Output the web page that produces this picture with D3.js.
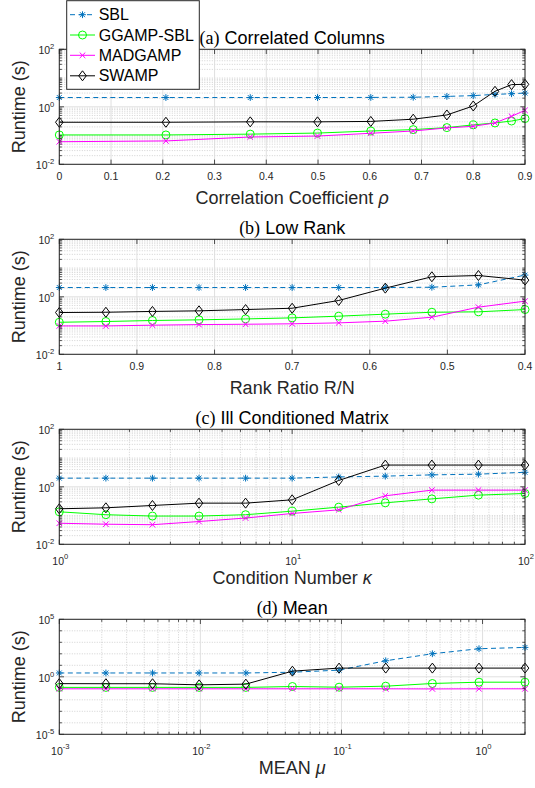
<!DOCTYPE html>
<html>
<head>
<meta charset="utf-8">
<script src="https://cdn.jsdelivr.net/npm/d3@7"></script>
<style>
  html, body { margin: 0; padding: 0; background: #fff; }
  svg { display: block; }
</style>
</head>
<body>
<svg id="fig" width="535" height="788"></svg>
<script>
// ---- Series names ----
const seriesNames = ["SBL", "GGAMP-SBL", "MADGAMP", "SWAMP"];

// ---- (a) Correlated columns: runtime vs correlation coefficient ----
const rhoValues   = [0, 0.206, 0.369, 0.499, 0.602, 0.684, 0.749, 0.800, 0.842, 0.874, 0.9];
const sblCorr     = [2.1, 2.1, 2.1, 2.1, 2.12, 2.15, 2.3, 2.45, 2.7, 2.85, 3.0];
const ggampCorr   = [0.105, 0.105, 0.112, 0.122, 0.144, 0.161, 0.189, 0.235, 0.274, 0.32, 0.39];
const madgampCorr = [0.061, 0.065, 0.089, 0.096, 0.12, 0.144, 0.184, 0.21, 0.274, 0.467, 0.755];
const swampCorr   = [0.29, 0.29, 0.30, 0.30, 0.31, 0.37, 0.52, 1.07, 3.46, 5.9, 6.05];

// ---- (b) Low rank: runtime vs rank ratio ----
const rankRatio   = [1, 0.94, 0.88, 0.82, 0.76, 0.70, 0.64, 0.58, 0.52, 0.46, 0.40];
const sblRank     = [2.1, 2.1, 2.1, 2.1, 2.1, 2.1, 2.1, 2.1, 2.15, 2.6, 5.7];
const ggampRank   = [0.13, 0.138, 0.15, 0.158, 0.17, 0.185, 0.212, 0.249, 0.29, 0.30, 0.36];
const madgampRank = [0.097, 0.097, 0.103, 0.108, 0.111, 0.115, 0.124, 0.142, 0.195, 0.436, 0.706];
const swampRank   = [0.284, 0.29, 0.31, 0.325, 0.36, 0.40, 0.745, 2.0, 4.97, 5.5, 3.8];

// ---- (c) Ill conditioned matrix: runtime vs condition number ----
const condNumber  = [1, 1.585, 2.512, 3.981, 6.31, 10, 15.85, 25.12, 39.81, 63.1, 100];
const sblCond     = [2.0, 2.0, 2.0, 2.0, 2.0, 2.0, 2.2, 2.35, 2.6, 2.75, 3.2];
const ggampCond   = [0.135, 0.107, 0.096, 0.096, 0.107, 0.142, 0.196, 0.277, 0.38, 0.513, 0.586];
const madgampCond = [0.054, 0.05, 0.048, 0.062, 0.082, 0.118, 0.158, 0.486, 0.766, 0.766, 0.766];
const swampCond   = [0.172, 0.186, 0.224, 0.27, 0.27, 0.353, 1.66, 5.7, 5.7, 5.7, 5.7];

// ---- (d) Mean: runtime vs mean ----
const meanValues  = [0.001, 0.00214, 0.00458, 0.0098, 0.021, 0.0449, 0.0962, 0.206, 0.441, 0.944, 2];
const sblMean     = [2.15, 2.15, 2.15, 2.15, 2.15, 2.5, 3.8, 24.8, 101, 276, 360];
const ggampMean   = [0.12, 0.12, 0.12, 0.12, 0.12, 0.143, 0.125, 0.153, 0.262, 0.34, 0.34];
const madgampMean = [0.09, 0.09, 0.09, 0.09, 0.09, 0.09, 0.09, 0.09, 0.088, 0.09, 0.09];
const swampMean   = [0.255, 0.25, 0.25, 0.2, 0.23, 3.1, 5.7, 5.7, 5.7, 5.7, 5.7];

// ---- Tick values and labels ----
const corrTicks      = [0, 0.1, 0.2, 0.3, 0.4, 0.5, 0.6, 0.7, 0.8, 0.9];
const corrTickLabels = ["0", "0.1", "0.2", "0.3", "0.4", "0.5", "0.6", "0.7", "0.8", "0.9"];
const rankTicks      = [1, 0.9, 0.8, 0.7, 0.6, 0.5, 0.4];
const rankTickLabels = ["1", "0.9", "0.8", "0.7", "0.6", "0.5", "0.4"];
const condTickExps   = [0, 1, 2];
const meanTickExps   = [-3, -2, -1, 0];
const runtimeTickExps     = [-2, 0, 2];
const meanRuntimeTickExps = [-5, 0, 5];

// ---- Styling ----
const AX = "#262626";
const SANS = "'Liberation Sans', Arial, Helvetica, sans-serif";
const SERIF = "'Liberation Serif', 'Times New Roman', serif";
const styles = [
  { color: "#0072BD", dash: "5,3.5", marker: "asterisk" },
  { color: "#00FF00", dash: null,    marker: "circle" },
  { color: "#FF00FF", dash: null,    marker: "cross" },
  { color: "#000000", dash: null,    marker: "diamond" }
];

const plotLeft = 59.3, plotRight = 525, plotH = 115;
const panelTops = [49.3, 239.3, 429.3, 619.3];

const svg = d3.select("#fig");
svg.append("rect").attr("width", 535).attr("height", 788).attr("fill", "#fff");

function markerPath(kind) {
  if (kind === "asterisk") {
    const r = 3.4, a = r * 0.72;
    return `M${-r},0H${r}M0,${-r}V${r}M${-a},${-a}L${a},${a}M${-a},${a}L${a},${-a}`;
  }
  if (kind === "cross") {
    const r = 2.8;
    return `M${-r},${-r}L${r},${r}M${-r},${r}L${r},${-r}`;
  }
  if (kind === "diamond") {
    const w = 3.8, h = 5;
    return `M0,${-h}L${w},0L0,${h}L${-w},0Z`;
  }
  return null;
}

function drawMarker(g, kind, color, cx, cy) {
  if (kind === "circle") {
    g.append("circle").attr("cx", cx).attr("cy", cy).attr("r", 4)
      .attr("fill", "none").attr("stroke", color).attr("stroke-width", 1);
  } else {
    g.append("path").attr("d", markerPath(kind))
      .attr("transform", `translate(${cx},${cy})`)
      .attr("fill", kind === "diamond" ? "none" : "none")
      .attr("stroke", color).attr("stroke-width", 1);
  }
}

// minor tick values on a log axis between two decade exponents
function logMinor(lo, hi, everyDecadeOnly, majorExps) {
  const out = [];
  for (let e = lo; e < hi; e++) {
    if (!majorExps.includes(e)) out.push(Math.pow(10, e));
    if (!everyDecadeOnly) for (let m = 2; m <= 9; m++) out.push(m * Math.pow(10, e));
  }
  if (!majorExps.includes(hi)) out.push(Math.pow(10, hi));
  return out;
}

function pow10Label(sel, exp, x, y, anchor, supDy) {
  const t = sel.append("text").attr("x", x).attr("y", y)
    .attr("text-anchor", anchor).attr("fill", AX)
    .attr("font-family", SANS).attr("font-size", 10.5);
  t.append("tspan").text("10");
  t.append("tspan").attr("dy", supDy).attr("font-size", 7.6).text(exp < 0 ? "-" + Math.abs(exp) : String(exp));
  return t;
}

function drawPanel(p, idx) {
  const top = panelTops[idx], bottom = top + plotH;
  const g = svg.append("g");

  const x = (p.xLog ? d3.scaleLog() : d3.scaleLinear()).domain(p.xDomain).range([plotLeft, plotRight]);
  const y = d3.scaleLog().domain(p.yDomain).range([bottom, top]);

  const yMajor = p.yExps.map(e => Math.pow(10, e));
  const yLo = Math.round(Math.log10(p.yDomain[0])), yHi = Math.round(Math.log10(p.yDomain[1]));
  const yMinor = logMinor(yLo, yHi, p.yDecadeMinorOnly, p.yExps);

  let xMajor, xMinor = [];
  if (p.xLog) {
    xMajor = p.xExps.map(e => Math.pow(10, e));
    const lo = Math.floor(Math.log10(p.xDomain[0])), hi = Math.ceil(Math.log10(p.xDomain[1]));
    xMinor = logMinor(lo, hi, false, p.xExps).filter(v => v > p.xDomain[0] && v <= p.xDomain[1] * 1.0001);
  } else {
    xMajor = p.xTicks;
  }

  // grid: minor dotted, major solid
  const grid = g.append("g");
  grid.selectAll(".ymin").data(yMinor).join("line")
    .attr("x1", plotLeft).attr("x2", plotRight).attr("y1", d => y(d)).attr("y2", d => y(d))
    .attr("stroke", "#b4b4b4").attr("stroke-width", 0.6).attr("stroke-dasharray", "1,1.5");
  grid.selectAll(".xmin").data(xMinor).join("line")
    .attr("y1", top).attr("y2", bottom).attr("x1", d => x(d)).attr("x2", d => x(d))
    .attr("stroke", "#b4b4b4").attr("stroke-width", 0.6).attr("stroke-dasharray", "1,1.5");
  grid.selectAll(".ymaj").data(yMajor).join("line")
    .attr("x1", plotLeft).attr("x2", plotRight).attr("y1", d => y(d)).attr("y2", d => y(d))
    .attr("stroke", "#dcdcdc").attr("stroke-width", 0.9);
  grid.selectAll(".xmaj").data(xMajor).join("line")
    .attr("y1", top).attr("y2", bottom).attr("x1", d => x(d)).attr("x2", d => x(d))
    .attr("stroke", "#dcdcdc").attr("stroke-width", 0.9);

  // series
  const line = d3.line().x(d => x(d[0])).y(d => y(d[1]));
  p.series.forEach((vals, si) => {
    const st = styles[si];
    const pts = p.xs.map((xv, i) => [xv, vals[i]]);
    g.append("path").datum(pts).attr("d", line)
      .attr("fill", "none").attr("stroke", st.color).attr("stroke-width", 1)
      .attr("stroke-dasharray", st.dash);
    const mg = g.append("g");
    pts.forEach(d => drawMarker(mg, st.marker, st.color, x(d[0]), y(d[1])));
  });

  // box and inward ticks
  const ax = g.append("g").attr("stroke", AX).attr("fill", "none");
  const majLen = 4.7, minLen = 2.6;
  const tick = (x1, y1, x2, y2) => ax.append("line").attr("x1", x1).attr("y1", y1).attr("x2", x2).attr("y2", y2).attr("stroke-width", 0.8);
  yMajor.forEach(v => { tick(plotLeft, y(v), plotLeft + majLen, y(v)); tick(plotRight, y(v), plotRight - majLen, y(v)); });
  yMinor.forEach(v => { tick(plotLeft, y(v), plotLeft + minLen, y(v)); tick(plotRight, y(v), plotRight - minLen, y(v)); });
  xMajor.forEach(v => { tick(x(v), bottom, x(v), bottom - majLen); tick(x(v), top, x(v), top + majLen); });
  xMinor.forEach(v => { tick(x(v), bottom, x(v), bottom - minLen); tick(x(v), top, x(v), top + minLen); });
  ax.append("rect").attr("x", plotLeft).attr("y", top)
    .attr("width", plotRight - plotLeft).attr("height", plotH).attr("stroke-width", 1);

  // y tick labels
  p.yExps.forEach(e => pow10Label(g, e, plotLeft - 5, y(Math.pow(10, e)) + 5, "end", -5));

  // x tick labels
  if (p.xLog) {
    p.xExps.forEach(e => pow10Label(g, e, x(Math.pow(10, e)) + 1, bottom + 20.5, "middle", -6));
  } else {
    p.xTicks.forEach((v, i) => g.append("text").attr("x", x(v)).attr("y", bottom + 16)
      .attr("text-anchor", "middle").attr("fill", AX).attr("font-family", SANS)
      .attr("font-size", 10.5).text(p.xTickLabels[i]));
  }

  const cx = (plotLeft + plotRight) / 2;

  // title: panel letter in serif, remaining words in sans
  const tt = g.append("text").attr("x", cx).attr("y", top - 5).attr("text-anchor", "middle")
    .attr("fill", "#000").attr("font-size", 18);
  tt.append("tspan").attr("font-family", SERIF).text(p.title[0]);
  tt.append("tspan").attr("font-family", SANS).text(p.title[1]);

  // x label
  const xl = g.append("text").attr("x", cx).attr("y", bottom + 40).attr("text-anchor", "middle")
    .attr("fill", AX).attr("font-family", SANS).attr("font-size", 18);
  xl.append("tspan").text(p.xLabel[0]);
  if (p.xLabel[1]) xl.append("tspan").attr("font-style", "italic").text(p.xLabel[1]);

  // y label
  g.append("text").attr("transform", `translate(25,${(top + bottom) / 2}) rotate(-90)`)
    .attr("text-anchor", "middle").attr("fill", AX).attr("font-family", SANS)
    .attr("font-size", 18).text("Runtime (s)");
}

const panels = [
  { title: ["(a)", " Correlated Columns"], xLabel: ["Correlation Coefficient ", "ρ"],
    xLog: false, xDomain: [0, 0.9], xTicks: corrTicks, xTickLabels: corrTickLabels,
    yDomain: [1e-2, 1e2], yExps: runtimeTickExps, yDecadeMinorOnly: false,
    xs: rhoValues, series: [sblCorr, ggampCorr, madgampCorr, swampCorr] },
  { title: ["(b)", " Low Rank"], xLabel: ["Rank Ratio R/N", null],
    xLog: false, xDomain: [1, 0.4], xTicks: rankTicks, xTickLabels: rankTickLabels,
    yDomain: [1e-2, 1e2], yExps: runtimeTickExps, yDecadeMinorOnly: false,
    xs: rankRatio, series: [sblRank, ggampRank, madgampRank, swampRank] },
  { title: ["(c)", " Ill Conditioned Matrix"], xLabel: ["Condition Number ", "κ"],
    xLog: true, xDomain: [1, 100], xExps: condTickExps,
    yDomain: [1e-2, 1e2], yExps: runtimeTickExps, yDecadeMinorOnly: false,
    xs: condNumber, series: [sblCond, ggampCond, madgampCond, swampCond] },
  { title: ["(d)", " Mean"], xLabel: ["MEAN ", "μ"],
    xLog: true, xDomain: [1e-3, 2], xExps: meanTickExps,
    yDomain: [1e-5, 1e5], yExps: meanRuntimeTickExps, yDecadeMinorOnly: true,
    xs: meanValues, series: [sblMean, ggampMean, madgampMean, swampMean] }
];

panels.forEach((p, i) => drawPanel(p, i));

// legend (top-left, over panel a)
const lg = svg.append("g");
lg.append("rect").attr("x", 66.7).attr("y", 0.7).attr("width", 132.6).attr("height", 88.6)
  .attr("fill", "#fff").attr("stroke", AX).attr("stroke-width", 1);
const legendY = [14.7, 35, 55.3, 75.8];
seriesNames.forEach((name, i) => {
  const st = styles[i], yy = legendY[i];
  lg.append("line").attr("x1", 70).attr("x2", 95).attr("y1", yy).attr("y2", yy)
    .attr("stroke", st.color).attr("stroke-width", 1).attr("stroke-dasharray", st.dash);
  drawMarker(lg, st.marker, st.color, 82.5, yy);
  lg.append("text").attr("x", 98.7).attr("y", yy + 5.6).attr("fill", "#000")
    .attr("font-family", SANS).attr("font-size", 16).text(name);
});
</script>
</body>
</html>
